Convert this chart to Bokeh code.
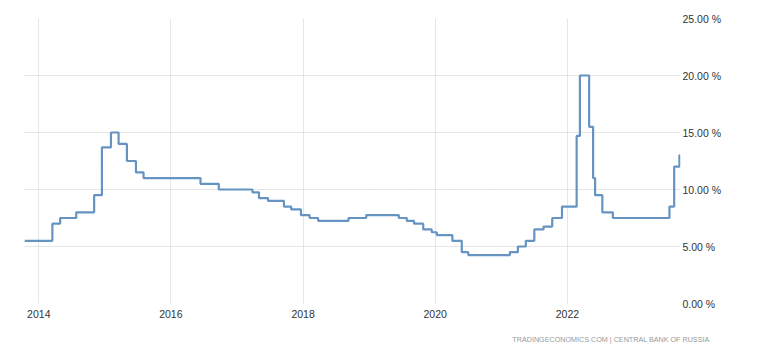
import pandas as pd
from bokeh.plotting import figure
from bokeh.models import FixedTicker, DatetimeTickFormatter, PrintfTickFormatter, Title, Range1d
from bokeh.embed import file_html
from bokeh.resources import INLINE

# Step-change dates of the policy rate
dates = [
    "2013-10-14", "2014-03-17", "2014-04-29", "2014-07-27", "2014-11-03", "2014-12-16",
    "2015-02-04", "2015-03-18", "2015-05-03", "2015-06-22", "2015-08-03",
    "2016-06-13", "2016-09-22", "2017-03-27", "2017-05-02", "2017-06-21",
    "2017-09-17", "2017-10-27", "2017-12-20", "2018-02-06", "2018-03-25",
    "2018-09-09", "2018-12-16", "2019-06-14", "2019-07-28", "2019-09-06",
    "2019-10-27", "2019-12-13", "2020-01-10", "2020-04-05", "2020-05-27",
    "2020-07-02", "2021-02-17", "2021-04-02", "2021-05-16", "2021-07-02",
    "2021-08-22", "2021-10-09", "2021-12-02", "2022-02-21", "2022-03-11",
    "2022-05-01", "2022-05-23", "2022-06-03", "2022-07-13", "2022-09-09",
    "2023-07-19", "2023-08-14", "2023-09-12", "2023-09-16",
]
rates = [
    5.50, 7.00, 7.50, 8.00, 9.50, 13.70,
    15.00, 14.00, 12.50, 11.50, 11.00,
    10.50, 10.00, 9.75, 9.25, 9.00,
    8.50, 8.25, 7.75, 7.50, 7.25,
    7.50, 7.75, 7.50, 7.25, 7.00,
    6.50, 6.25, 6.00, 5.50, 4.50,
    4.25, 4.50, 5.00, 5.50, 6.50,
    6.75, 7.50, 8.50, 14.70, 20.00,
    15.50, 11.00, 9.50, 8.00, 7.50,
    8.50, 12.00, 13.00, 13.00,
]
year_ticks = ["2014-01-01", "2016-01-01", "2018-01-01", "2020-01-01", "2022-01-01"]
y_ticks = [0, 5, 10, 15, 20, 25]
source_text = "TRADINGECONOMICS.COM  |  CENTRAL BANK OF RUSSIA"

x = pd.to_datetime(dates)
tick_ms = [pd.Timestamp(d).value / 1e6 for d in year_ticks]

p = figure(
    x_axis_type="datetime", y_axis_location="right",
    frame_width=656, frame_height=285,
    min_border_left=24, min_border_top=18, min_border_bottom=54, min_border_right=78,
    output_backend="svg", toolbar_location=None,
    x_range=Range1d(pd.Timestamp("2013-10-14"), pd.Timestamp("2023-09-18")),
    y_range=Range1d(0, 25),
)
p.outline_line_color = None
p.background_fill_color = "white"
p.border_fill_color = "white"

p.step(x, rates, mode="after", line_color="#6594c2", line_width=2.2)

p.xgrid.grid_line_color = "#cccccc"
p.xgrid.grid_line_dash = "1 1"
p.ygrid.grid_line_color = "#cccccc"
p.ygrid.grid_line_dash = "1 1"

xa = p.xaxis[0]
xa.ticker = FixedTicker(ticks=tick_ms)
xa.formatter = DatetimeTickFormatter(years="%Y", months="%Y", days="%Y")
xa.axis_line_color = None
xa.major_tick_line_color = None
xa.minor_tick_line_color = None
xa.major_tick_out = 0
xa.major_tick_in = 0
xa.major_label_standoff = 6
xa.major_label_text_font = "Liberation Sans"
xa.major_label_text_font_size = "10.5px"
xa.major_label_text_color = "#333333"

ya = p.yaxis[0]
ya.ticker = FixedTicker(ticks=y_ticks)
ya.formatter = PrintfTickFormatter(format="%.2f %%")
ya.axis_line_color = None
ya.major_tick_line_color = None
ya.minor_tick_line_color = None
ya.major_tick_out = 0
ya.major_tick_in = 0
ya.major_label_standoff = 2
ya.major_label_text_font = "Liberation Sans"
ya.major_label_text_font_size = "10.5px"
ya.major_label_text_color = "#333333"

p.add_layout(Title(
    text=source_text, align="right", offset=-33, standoff=25,
    text_font="Liberation Sans", text_font_size="7.2px", text_font_style="normal",
    text_color="#999999",
), "below")

open("out.html", "w").write(file_html(p, INLINE))
